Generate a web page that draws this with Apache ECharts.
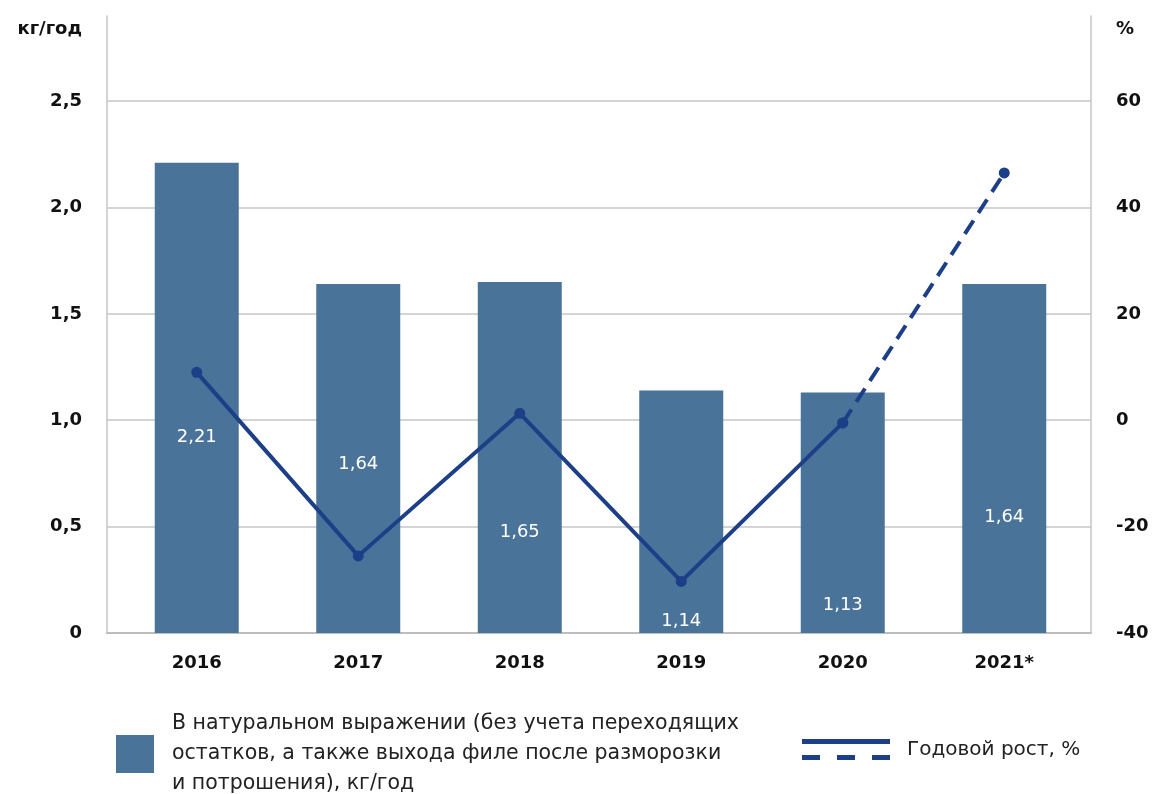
<!DOCTYPE html>
<html>
<head>
<meta charset="utf-8">
<script src="https://cdn.jsdelivr.net/npm/echarts@6/dist/echarts.min.js"></script>
<style>
html,body{margin:0;padding:0;background:#fff;}
#chart{width:1154px;height:794px;}
</style>
</head>
<body>
<div id="chart"></div>
<script>
// ---- data ----
const categories = ['2016', '2017', '2018', '2019', '2020', '2021*'];
const volume = [2.21, 1.64, 1.65, 1.14, 1.13, 1.64];           // кг/год
const growthActual = [9, -25.5, 1.3, -30.3, -0.5, null];        // %
const growthForecast = [null, null, null, null, -0.5, 46.5];    // %
const volumeName = 'В натуральном выражении (без учета переходящих\nостатков, а также выхода филе после разморозки\nи потрошения), кг/год';
const growthName = 'Годовой рост, %';
const leftUnit = 'кг/год';
const rightUnit = '%';

// ---- layout (not data) ----
const barLabelDistance = [187, 160, 92, 3, 19, 107];
const FONT = '"DejaVu Sans", sans-serif';
const BAR = '#4a7399';
const LINE = '#1c3f87';
const GRID = '#c6c6c6';
const AXIS_FS = 18;

const comma = v => String(v).replace('.', ',');
const leftTick = v => v === 0 ? '0' : v.toFixed(1).replace('.', ',');

const chart = echarts.init(document.getElementById('chart'), null, {renderer: 'canvas'});
const option = {
  animation: false,
  textStyle: {fontFamily: FONT},
  grid: [
    {left: 107, right: 63, top: 16, bottom: 161},
    {left: 116, right: 69, top: 16, bottom: 161}
  ],
  xAxis: [
    {gridIndex: 0, type: 'category', data: categories,
     axisLine: {show: true, lineStyle: {color: '#bdbdbd', width: 2}},
     axisTick: {show: false}, axisLabel: {show: false}},
    {gridIndex: 1, type: 'category', data: categories,
     axisLine: {show: false}, axisTick: {show: false},
     axisLabel: {color: '#111', fontSize: AXIS_FS, fontWeight: 'bold', margin: 21, fontFamily: FONT}}
  ],
  yAxis: [
    {gridIndex: 0, type: 'value', min: 0, max: 2.9, interval: 0.5, position: 'left',
     name: leftUnit, nameLocation: 'end', nameGap: -13,
     nameTextStyle: {color: '#111', fontSize: AXIS_FS, fontWeight: 'bold', align: 'right', verticalAlign: 'middle', padding: [0, 25, 0, 0], fontFamily: FONT},
     axisLine: {show: true, lineStyle: {color: GRID, width: 1.5}},
     axisTick: {show: false},
     axisLabel: {color: '#111', fontSize: AXIS_FS, fontWeight: 'bold', margin: 25, showMaxLabel: false,
                 formatter: leftTick, fontFamily: FONT},
     splitLine: {show: true, lineStyle: {color: [GRID, GRID, GRID, GRID, GRID, GRID, 'rgba(0,0,0,0)'], width: 1.5}}},
    {gridIndex: 0, type: 'value', min: -40, max: 76, interval: 20, position: 'right',
     name: rightUnit, nameLocation: 'end', nameGap: -13,
     nameTextStyle: {color: '#111', fontSize: AXIS_FS, fontWeight: 'bold', align: 'left', verticalAlign: 'middle', padding: [0, 0, 0, 25], fontFamily: FONT},
     axisLine: {show: true, lineStyle: {color: GRID, width: 1.5}},
     axisTick: {show: false},
     axisLabel: {color: '#111', fontSize: AXIS_FS, fontWeight: 'bold', margin: 25, showMaxLabel: false, fontFamily: FONT},
     splitLine: {show: false}},
    {gridIndex: 1, type: 'value', min: 0, max: 2.9, interval: 0.5, show: false},
    {gridIndex: 1, type: 'value', min: -40, max: 76, interval: 20, show: false}
  ],
  legend: [
    {left: 116, top: 709, padding: 0, itemWidth: 38, itemHeight: 38, itemGap: 20, selectedMode: false,
     data: [{name: volumeName, icon: 'rect'}],
     textStyle: {color: '#222', fontSize: 20.5, lineHeight: 30, padding: [0, 0, 0, 13], fontFamily: FONT}},
    {left: 802, top: 739, padding: 0, itemWidth: 88, itemHeight: 21, selectedMode: false,
     data: [{name: growthName, icon: 'path://M0,0H88V5H0Z M0,16H18V21H0Z M35,16H53V21H35Z M70,16H88V21H70Z',
             itemStyle: {color: LINE, borderWidth: 0}}],
     textStyle: {color: '#222', fontSize: 20, padding: [7, 0, 0, 12], fontFamily: FONT}}
  ],
  series: [
    {name: volumeName, type: 'bar', xAxisIndex: 1, yAxisIndex: 2, data: volume.map((v, i) => ({
        value: v,
        label: {show: true, position: 'insideBottom', distance: barLabelDistance[i]}
      })),
     barWidth: 84, itemStyle: {color: BAR},
     label: {color: '#fff', fontSize: 18, fontFamily: FONT, formatter: p => comma(p.value)},
     silent: true},
    {name: growthName, type: 'line', xAxisIndex: 1, yAxisIndex: 3, data: growthActual,
     symbol: 'circle', symbolSize: 11, itemStyle: {color: LINE},
     lineStyle: {color: LINE, width: 4}, silent: true, z: 5},
    {name: growthName, type: 'line', xAxisIndex: 1, yAxisIndex: 3, data: growthForecast,
     symbol: 'circle', symbolSize: 11, itemStyle: {color: LINE},
     lineStyle: {color: LINE, width: 4, type: [16, 9]}, silent: true, z: 5}
  ]
};
chart.setOption(option);
</script>
</body>
</html>
